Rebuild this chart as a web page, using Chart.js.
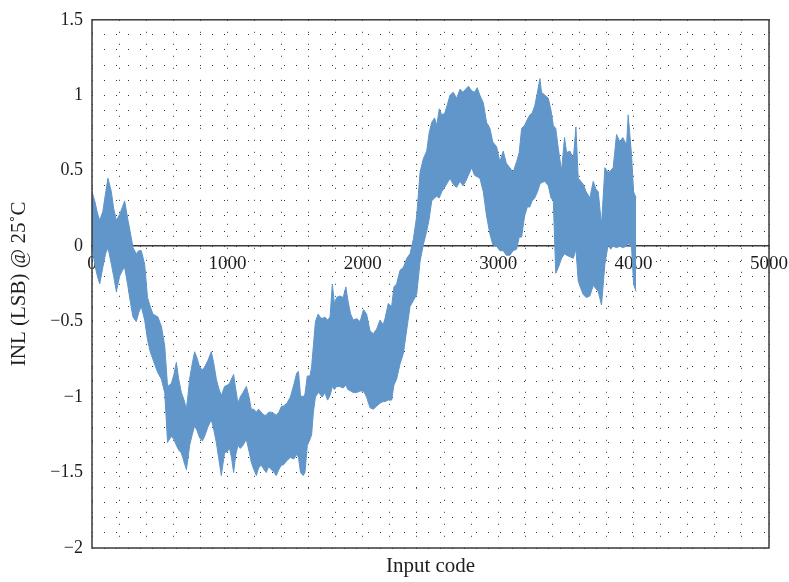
<!DOCTYPE html>
<html>
<head>
<meta charset="utf-8">
<title>INL vs input code</title>
<script src="https://cdn.jsdelivr.net/npm/chart.js@4/dist/chart.umd.min.js"></script>
<style>
  html, body { margin: 0; padding: 0; background: #ffffff; }
  #wrap { width: 789px; height: 582px; }
</style>
</head>
<body>
<div id="wrap"><canvas id="inl"></canvas></div>
<script>
// Input codes where the INL band was sampled
const codes = [
  0, 20, 40, 57, 80, 100, 118, 143, 160, 180, 204, 225, 241, 266, 285, 303, 327, 345, 364, 389,
  410, 430, 450, 470, 487, 512, 537, 558, 586, 605, 623, 640, 660, 680, 697, 710, 721, 740, 758, 775,
  795, 815, 832, 855, 881, 900, 918, 935, 955, 979, 1000, 1016, 1030, 1046, 1062, 1078, 1095, 1115, 1140, 1160,
  1176, 1195, 1214, 1230, 1250, 1270, 1287, 1305, 1324, 1345, 1361, 1380, 1400, 1413, 1440, 1465, 1490, 1512, 1525, 1540,
  1560, 1573, 1590, 1610, 1622, 1635, 1650, 1670, 1684, 1700, 1720, 1740, 1758, 1775, 1790, 1807, 1830, 1855, 1875, 1890,
  1910, 1930, 1955, 1980, 2005, 2028, 2053, 2077, 2102, 2127, 2150, 2164, 2188, 2213, 2230, 2250, 2275, 2300, 2325, 2349,
  2374, 2398, 2423, 2447, 2472, 2490, 2509, 2530, 2546, 2565, 2583, 2605, 2625, 2644, 2668, 2693, 2718, 2740, 2760, 2780,
  2804, 2825, 2845, 2865, 2890, 2914, 2939, 2960, 2988, 3012, 3037, 3060, 3086, 3110, 3136, 3155, 3173, 3195, 3215, 3234,
  3250, 3270, 3290, 3308, 3320, 3345, 3370, 3390, 3407, 3425, 3445, 3468, 3490, 3505, 3530, 3555, 3574, 3591, 3610, 3628,
  3650, 3677, 3702, 3720, 3739, 3763, 3788, 3812, 3830, 3849, 3874, 3899, 3920, 3948, 3960, 3985, 4000, 4018
];

// Upper edge of the INL spread (LSB) at each sampled code
const inlUpper = [
  0.36, 0.30, 0.22, 0.17, 0.23, 0.35, 0.45, 0.36, 0.25, 0.17, 0.21, 0.26, 0.30, 0.17, 0.08, -0.01, -0.05, -0.03, -0.03, -0.12,
  -0.34, -0.40, -0.45, -0.46, -0.47, -0.53, -0.66, -0.93, -0.91, -0.85, -0.77, -0.88, -0.97, -1.02, -1.08, -0.98, -0.88, -0.78, -0.70, -0.74,
  -0.80, -0.82, -0.80, -0.76, -0.70, -0.78, -0.88, -0.94, -0.99, -0.93, -0.92, -0.91, -0.88, -0.85, -0.95, -1.04, -1.00, -0.97, -0.93, -1.00,
  -1.08, -1.08, -1.10, -1.08, -1.10, -1.12, -1.12, -1.10, -1.10, -1.11, -1.12, -1.10, -1.06, -1.06, -1.04, -1.00, -0.92, -0.84, -0.83, -0.99,
  -1.00, -0.98, -0.86, -0.86, -0.80, -0.66, -0.50, -0.45, -0.47, -0.48, -0.47, -0.49, -0.47, -0.25, -0.38, -0.34, -0.33, -0.34, -0.27, -0.36,
  -0.45, -0.49, -0.48, -0.50, -0.42, -0.45, -0.56, -0.58, -0.55, -0.49, -0.52, -0.48, -0.38, -0.40, -0.27, -0.25, -0.16, -0.14, -0.08, -0.05,
  0.05, 0.20, 0.49, 0.58, 0.63, 0.75, 0.82, 0.85, 0.80, 0.91, 0.87, 0.88, 0.94, 1.00, 1.02, 0.98, 1.04, 1.02, 1.04, 1.06,
  1.03, 1.02, 1.05, 1.00, 0.95, 0.82, 0.78, 0.69, 0.66, 0.56, 0.63, 0.55, 0.52, 0.49, 0.56, 0.62, 0.78, 0.80, 0.84, 0.87,
  0.88, 0.93, 1.02, 1.11, 1.02, 1.00, 0.98, 0.90, 0.80, 0.78, 0.64, 0.50, 0.72, 0.62, 0.63, 0.58, 0.79, 0.45, 0.43, 0.41,
  0.36, 0.32, 0.43, 0.38, 0.36, 0.14, 0.52, 0.49, 0.50, 0.52, 0.74, 0.69, 0.72, 0.67, 0.87, 0.60, 0.36, 0.32
];

// Lower edge of the INL spread (LSB) at each sampled code
const inlLower = [
  0.01, -0.12, -0.20, -0.25, -0.14, -0.05, -0.01, -0.12, -0.20, -0.30, -0.20, -0.16, -0.14, -0.27, -0.38, -0.47, -0.50, -0.44, -0.40, -0.49,
  -0.62, -0.70, -0.75, -0.80, -0.84, -0.88, -0.97, -1.30, -1.26, -1.28, -1.32, -1.35, -1.37, -1.43, -1.48, -1.40, -1.32, -1.25, -1.19, -1.22,
  -1.27, -1.29, -1.26, -1.20, -1.15, -1.22, -1.30, -1.40, -1.52, -1.37, -1.36, -1.34, -1.40, -1.50, -1.38, -1.32, -1.34, -1.32, -1.28, -1.36,
  -1.43, -1.48, -1.52, -1.47, -1.45, -1.48, -1.50, -1.46, -1.48, -1.50, -1.52, -1.48, -1.45, -1.45, -1.42, -1.40, -1.41, -1.38, -1.40, -1.50,
  -1.52, -1.50, -1.32, -1.28, -1.25, -1.10, -1.00, -0.97, -0.98, -1.00, -0.97, -1.02, -0.99, -0.93, -0.95, -0.93, -0.93, -0.94, -0.92, -0.95,
  -0.96, -0.97, -0.97, -0.96, -0.96, -1.00, -1.07, -1.08, -1.06, -1.04, -1.03, -1.03, -1.02, -1.02, -0.92, -0.88, -0.78, -0.71, -0.55, -0.40,
  -0.36, -0.32, -0.10, 0.01, 0.10, 0.18, 0.30, 0.32, 0.33, 0.32, 0.36, 0.39, 0.42, 0.45, 0.41, 0.39, 0.43, 0.40, 0.43, 0.47,
  0.52, 0.47, 0.46, 0.45, 0.36, 0.20, 0.08, 0.01, 0.00, -0.03, -0.03, -0.06, -0.06, -0.03, -0.02, 0.06, 0.06, 0.20, 0.26, 0.26,
  0.30, 0.32, 0.36, 0.41, 0.42, 0.43, 0.40, 0.32, 0.30, -0.18, -0.14, -0.08, -0.05, -0.06, -0.07, -0.08, -0.02, -0.23, -0.28, -0.32,
  -0.34, -0.33, -0.26, -0.28, -0.30, -0.39, -0.12, 0.01, -0.02, 0.00, -0.01, 0.00, -0.01, 0.00, 0.02, -0.01, -0.25, -0.30
];

// Axis labels
const xTickLabels = ['0', '1000', '2000', '3000', '4000', '5000'];
const yTickLabels = ['\u22122', '\u22121.5', '\u22121', '\u22120.5', '0', '0.5', '1', '1.5'];

const BAND = 'rgb(96,150,202)';
const INK = '#1e1e1e';
const FRAME = '#3a3a3a';
const DOTS = '#333333';
const SERIF = "'Liberation Serif', 'DejaVu Serif', serif";

const upperPts = codes.map((c, i) => ({ x: c, y: inlUpper[i] }));
const lowerPts = codes.map((c, i) => ({ x: c, y: inlLower[i] }));

// Box around the plotting area
const frame = {
  id: 'frame',
  afterDraw(chart) {
    const { ctx, chartArea: a } = chart;
    ctx.save();
    ctx.strokeStyle = FRAME;
    ctx.lineWidth = 1.5;
    ctx.strokeRect(a.left, a.top, a.right - a.left, a.bottom - a.top);
    ctx.restore();
  }
};

new Chart(document.getElementById('inl'), {
  type: 'line',
  data: {
    datasets: [
      {
        label: 'INL upper',
        data: upperPts,
        borderColor: BAND,
        borderWidth: 1,
        pointRadius: 0,
        tension: 0,
        fill: false
      },
      {
        label: 'INL lower',
        data: lowerPts,
        borderColor: BAND,
        backgroundColor: BAND,
        borderWidth: 1,
        pointRadius: 0,
        tension: 0,
        fill: '-1'
      }
    ]
  },
  options: {
    responsive: true,
    maintainAspectRatio: false,
    animation: false,
    events: [],
    layout: { padding: { top: 15, right: 20, left: 0, bottom: 0 } },
    plugins: {
      legend: { display: false },
      tooltip: { enabled: false }
    },
    scales: {
      x: {
        type: 'linear',
        position: 'bottom',
        min: 0,
        max: 5000,
        afterFit(s) { s.height = 34; },
        ticks: { display: false, stepSize: 200, maxTicksLimit: 1000 },
        grid: { color: DOTS, lineWidth: 1, drawTicks: false },
        border: { display: false, dash: [1, 11] },
        title: {
          display: true,
          text: 'Input code',
          color: INK,
          font: { family: SERIF, size: 21 },
          padding: { top: 0, bottom: 3 }
        }
      },
      xZero: {
        type: 'linear',
        axis: 'x',
        position: { y: 0 },
        min: 0,
        max: 5000,
        // labels on the zero line may overhang the plot edges
        afterFit(s) { s.paddingLeft = 0; s.paddingRight = 0; },
        ticks: {
          stepSize: 1000,
          maxRotation: 0,
          autoSkip: false,
          padding: 6,
          color: INK,
          font: { family: SERIF, size: 19 },
          callback: (v) => xTickLabels[Math.round(v / 1000)]
        },
        grid: { display: false, drawTicks: false },
        border: { display: true, color: FRAME, width: 1.5 }
      },
      y: {
        type: 'linear',
        position: 'left',
        min: -2,
        max: 1.5,
        afterFit(s) { s.width = 92; },
        ticks: {
          stepSize: 0.1,
          maxTicksLimit: 1000,
          autoSkip: false,
          padding: 9,
          color: INK,
          font: { family: SERIF, size: 18 },
          callback: (v) => {
            const tenths = Math.round(v * 10);
            return tenths % 5 === 0 ? yTickLabels[(tenths + 20) / 5] : '';
          }
        },
        grid: { color: DOTS, lineWidth: 1, drawTicks: false },
        border: { display: false, dash: [1, 11] },
        title: {
          display: true,
          text: 'INL (LSB) @ 25\u02DAC',
          color: INK,
          font: { family: SERIF, size: 21 },
          padding: { top: 7, bottom: 0 }
        }
      }
    }
  },
  plugins: [frame]
});
</script>
</body>
</html>
